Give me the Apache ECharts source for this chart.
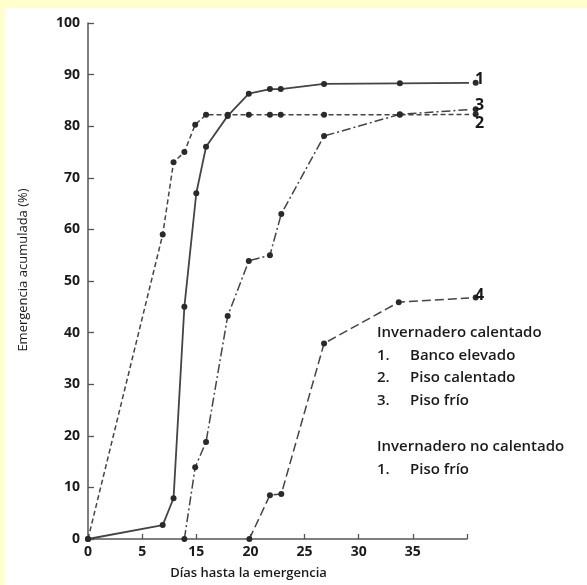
<!DOCTYPE html>
<html>
<head>
<meta charset="utf-8">
<script src="https://cdn.jsdelivr.net/npm/echarts@6/dist/echarts.min.js"></script>
<style>
html,body{margin:0;padding:0;background:#FFFFCC;}
#chart{width:587px;height:585px;}
</style>
</head>
<body>
<div id="chart"></div>
<script>
// Tick labels as printed on the original x axis (one per tick position)
const xTickLabels = ['0', '5', '15', '20', '25', '30', '35', ''];
const yTicks = [0, 10, 20, 30, 40, 50, 60, 70, 80, 90, 100];

// Curve 1 – Banco elevado (solid)
const x1 = [0, 6.9, 7.9, 8.9, 10.0, 10.9, 12.9, 14.85, 16.8, 17.8, 21.8, 28.8, 35.8];
const y1 = [0, 2.7, 7.9, 45, 67, 76, 82, 86.3, 87.2, 87.2, 88.2, 88.3, 88.4];

// Curve 2 – Piso calentado (dashed)
const x2 = [0, 6.9, 7.9, 8.9, 9.9, 10.9, 12.9, 14.85, 16.8, 17.8, 21.8, 28.8, 35.8];
const y2 = [0, 59, 73, 75, 80.3, 82.2, 82.2, 82.2, 82.2, 82.2, 82.2, 82.2, 82.3];

// Curve 3 – Piso frío (dash-dot)
const x3 = [8.9, 9.9, 10.9, 12.9, 14.85, 16.8, 17.85, 21.8, 28.8, 35.8];
const y3 = [0, 13.9, 18.8, 43.2, 53.9, 55, 63, 78.1, 82.3, 83.3];

// Curve 4 – Invernadero no calentado, piso frío (long dashes)
const x4 = [14.9, 16.8, 17.85, 21.8, 28.7, 35.8];
const y4 = [0, 8.5, 8.7, 37.9, 45.9, 46.8];

const notes = [
  {text: 'Invernadero calentado', num: null},
  {text: 'Banco elevado', num: '1.'},
  {text: 'Piso calentado', num: '2.'},
  {text: 'Piso frío', num: '3.'},
  {text: '', num: null},
  {text: 'Invernadero no calentado', num: null},
  {text: 'Piso frío', num: '1.'}
];

const pair = (xs, ys) => xs.map((x, i) => [x, ys[i]]);

const chart = echarts.init(document.getElementById('chart'));
const FONT = 'Open Sans';
const INK = '#1a1a1a';

function mkSeries(name, xs, ys, type, lbl, off) {
  return {
    name: name,
    type: 'line',
    data: pair(xs, ys),
    clip: false,
    symbol: 'circle',
    symbolSize: 6,
    itemStyle: {color: '#2a2a2a'},
    lineStyle: {color: '#444', width: type === 'solid' ? 1.8 : 1.5, type: type},
    endLabel: {
      show: true, formatter: lbl, color: INK, fontFamily: FONT,
      fontWeight: 'bold', fontSize: 16, distance: 6, offset: off
    },
    animation: false
  };
}

// Notes block as text lines
const noteGraphics = [];
const startY = 335, lineH = 22.8;
const noteFont = '600 15px "Open Sans"';
notes.forEach((n, i) => {
  if (!n.text) return;
  const y = startY + i * lineH;
  if (n.num) {
    noteGraphics.push({type: 'text', left: 377, top: y - 10,
      style: {text: n.num, fill: INK, font: noteFont}});
    noteGraphics.push({type: 'text', left: 410, top: y - 10,
      style: {text: n.text, fill: INK, font: noteFont}});
  } else {
    noteGraphics.push({type: 'text', left: 377, top: y - 10,
      style: {text: n.text, fill: INK, font: noteFont}});
  }
});

chart.setOption({
  backgroundColor: '#FFFFCC',
  animation: false,
  graphic: [
    {type: 'rect', left: 5, top: 8, z: -10,
      shape: {width: 582, height: 577}, style: {fill: '#ffffff'}}
  ].concat(noteGraphics),
  grid: {left: 88, top: 23, right: 120, bottom: 46, containLabel: false, outerBoundsMode: 'none'},
  xAxis: {
    type: 'value', min: 0, max: 35, interval: 5,
    name: 'Días hasta la emergencia',
    nameLocation: 'middle', nameGap: 28,
    nameTextStyle: {color: INK, fontFamily: FONT, fontSize: 13, fontWeight: 600, padding: [0, 58, 0, 0]},
    axisLine: {lineStyle: {color: '#555', width: 1.5}},
    axisTick: {inside: true, length: 5, lineStyle: {color: '#555', width: 1.3}},
    axisLabel: {
      color: INK, fontFamily: FONT, fontWeight: 'bold', fontSize: 14, margin: 6,
      formatter: v => xTickLabels[Math.round(v / 5)] ?? ''
    },
    splitLine: {show: false}
  },
  yAxis: {
    type: 'value', min: yTicks[0], max: yTicks[yTicks.length - 1], interval: 10,
    name: 'Emergencia acumulada (%)',
    nameLocation: 'middle', nameGap: 58,
    nameTextStyle: {color: INK, fontFamily: FONT, fontSize: 13, padding: [0, 0, 0, 22]},
    axisLine: {show: true, lineStyle: {color: '#555', width: 1.5}},
    axisTick: {show: true, inside: true, length: 6, lineStyle: {color: '#555', width: 1.3}},
    axisLabel: {color: INK, fontFamily: FONT, fontWeight: 'bold', fontSize: 14, margin: 8},
    splitLine: {show: false}
  },
  series: [
    mkSeries('1', x1, y1, 'solid', '1', [0, -3]),
    mkSeries('2', x2, y2, [5, 3], '2', [0, 9]),
    mkSeries('3', x3, y3, [9, 3, 2, 3], '3', [0, -4]),
    mkSeries('4', x4, y4, [9, 4], '4', [0, -2])
  ]
});
</script>
</body>
</html>
